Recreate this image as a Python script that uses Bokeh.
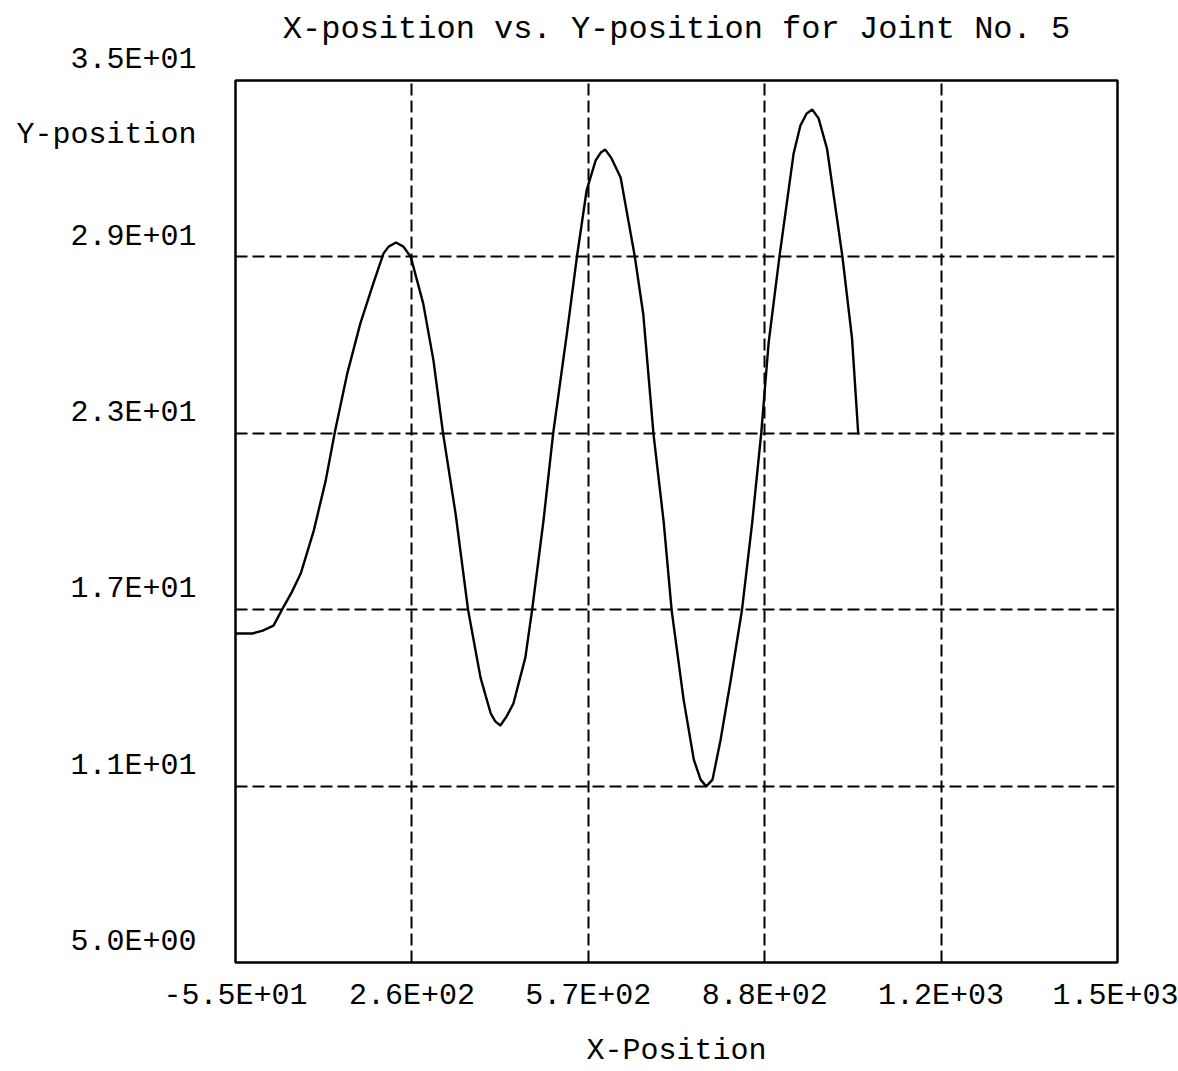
from bokeh.plotting import figure
from bokeh.models import FixedTicker, Range1d
from bokeh.embed import file_html
from bokeh.resources import INLINE

# ---- data ----
x_pos = [-55, -25, -7, 12, 27, 44, 60, 83, 104, 120, 142, 165, 188, 206, 215, 228, 241, 254,
         276, 294, 311, 333, 355, 377, 395, 403, 412, 423, 435, 456, 468, 488, 505, 530,
         547, 564, 580, 589, 597, 608, 624, 649, 664, 682, 700, 714, 735, 753, 765, 775,
         786, 800, 818, 838, 856, 872, 885, 904, 929, 941, 952, 962, 973, 988, 1015,
         1032, 1043]
y_pos = [16.19, 16.19, 16.29, 16.46, 17.0, 17.59, 18.23, 19.69, 21.39, 23.03, 25.03, 26.73,
         28.10, 29.12, 29.35, 29.49, 29.35, 29.0, 27.41, 25.48, 22.99, 20.27, 17.0, 14.69,
         13.47, 13.20, 13.06, 13.37, 13.81, 15.37, 17.0, 20.03, 22.99, 26.50, 29.01, 31.26,
         32.28, 32.55, 32.65, 32.35, 31.70, 29.01, 27.04, 22.96, 19.97, 16.97, 13.95, 11.90,
         11.22, 10.99, 11.22, 12.55, 14.59, 17.0, 19.97, 23.03, 26.09, 29.01, 32.52, 33.47,
         33.88, 34.01, 33.71, 32.67, 29.01, 26.22, 22.96]

x_ticks = [-55, 256, 567, 878, 1189, 1500]
x_tick_labels = ["-5.5E+01", "2.6E+02", "5.7E+02", "8.8E+02", "1.2E+03", "1.5E+03"]
y_ticks = [5, 11, 17, 23, 29, 35]
y_tick_labels = ["5.0E+00", "1.1E+01", "1.7E+01", "2.3E+01", "2.9E+01", "3.5E+01"]

title_text = "X-position vs. Y-position for Joint No. 5"
x_title = "X-Position"
y_title = "Y-position"
y_title_at = 33.13  # level where the y title sits, between the top two ticks

FONT = "Liberation Mono"
FS = "30px"

p = figure(width=1178, height=1071, output_backend="svg", toolbar_location=None,
           x_range=Range1d(x_ticks[0], x_ticks[-1]), y_range=Range1d(y_ticks[0], y_ticks[-1]),
           min_border_left=235, min_border_right=61, min_border_top=80, min_border_bottom=109,
           title=title_text + "\n ")
p.background_fill_color = "white"
p.border_fill_color = "white"
p.outline_line_color = "black"
p.outline_line_width = 2.5

p.title.align = "center"
p.title.text_font = FONT
p.title.text_font_size = "32px"
p.title.text_font_style = "normal"
p.title.text_color = "black"
p.title.text_line_height = 0.8
p.title.standoff = 6
p.title.offset = -8

# x axis
p.xaxis.ticker = FixedTicker(ticks=x_ticks)
p.xaxis.major_label_overrides = {t: l for t, l in zip(x_ticks, x_tick_labels)}
p.xaxis.major_label_text_font = FONT
p.xaxis.major_label_text_font_size = FS
p.xaxis.major_label_text_color = "black"
p.xaxis.major_label_standoff = 10
p.xaxis.major_tick_line_color = None
p.xaxis.minor_tick_line_color = None
p.xaxis.axis_line_color = None
p.xaxis.axis_label = x_title
p.xaxis.axis_label_text_font = FONT
p.xaxis.axis_label_text_font_size = FS
p.xaxis.axis_label_text_font_style = "normal"
p.xaxis.axis_label_text_color = "black"
p.xaxis.axis_label_standoff = 18

# y axis: tick labels sit just above their grid lines (second blank line lifts them)
yt = y_ticks + [y_title_at]
overrides = {t: l + "\n " for t, l in zip(y_ticks, y_tick_labels)}
overrides[y_title_at] = y_title
p.yaxis.ticker = FixedTicker(ticks=yt)
p.yaxis.major_label_overrides = overrides
p.yaxis.major_label_text_font = FONT
p.yaxis.major_label_text_font_size = FS
p.yaxis.major_label_text_color = "black"
p.yaxis.major_label_standoff = 33
p.yaxis.major_tick_line_color = None
p.yaxis.minor_tick_line_color = None
p.yaxis.axis_line_color = None

p.xgrid.ticker = FixedTicker(ticks=x_ticks[1:-1])
p.ygrid.ticker = FixedTicker(ticks=y_ticks[1:-1])
for g in (p.xgrid, p.ygrid):
    g.grid_line_color = "black"
    g.grid_line_width = 2
    g.grid_line_dash = "12 5"
    g.grid_line_alpha = 1.0

p.line(x_pos, y_pos, line_color="black", line_width=2.4)

open("out.html", "w").write(file_html(p, INLINE))
